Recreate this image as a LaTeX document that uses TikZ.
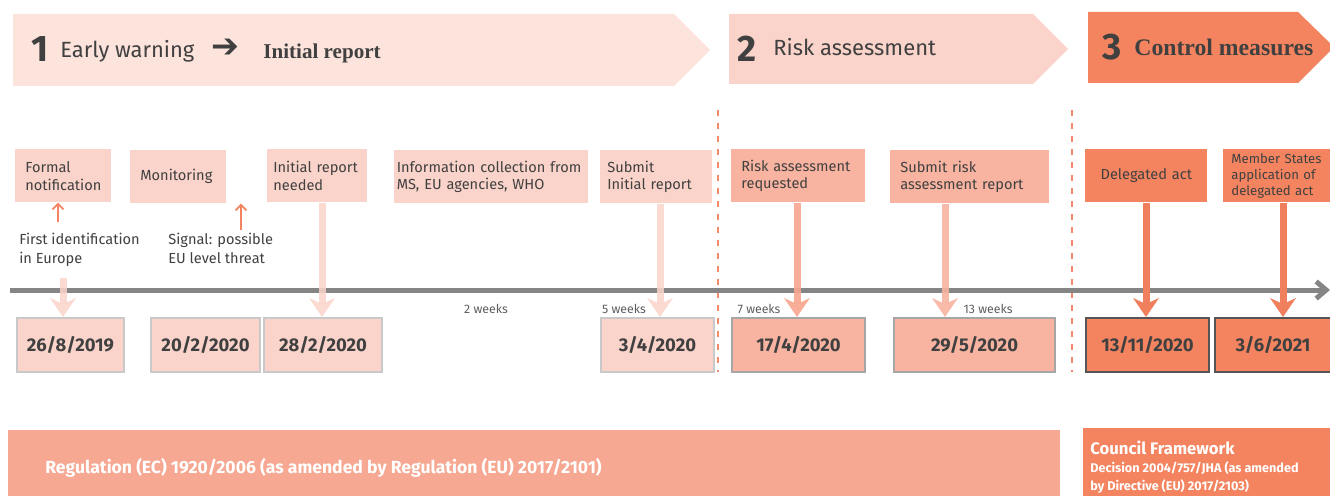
\documentclass[tikz,border=0pt]{standalone}
\usepackage{fontspec}
\setmainfont{Fira Sans}
\newfontfamily\slabfont{Liberation Serif}
\newfontfamily\symfont{DejaVu Sans}
\usepackage{tikz}
\usetikzlibrary{arrows.meta,positioning,calc}

\definecolor{txt}{HTML}{404040}
\definecolor{paleA}{HTML}{FCE3DC}
\definecolor{paleB}{HTML}{FAD4CA}
\definecolor{midC}{HTML}{F8B4A0}
\definecolor{midArrow}{HTML}{F7A58E}
\definecolor{strongD}{HTML}{F4845F}
\definecolor{strongArrow}{HTML}{F07F5E}
\definecolor{regbar}{HTML}{F6A892}
\definecolor{axisgray}{HTML}{858585}
\definecolor{edgeA}{HTML}{C9C9C9}
\definecolor{edgeB}{HTML}{A6A6A6}
\definecolor{edgeC}{HTML}{555555}
\definecolor{dashcol}{HTML}{F08A6A}

\begin{document}
\begin{tikzpicture}[x=0.2mm,y=-0.2mm,
    every node/.style={text=txt},
    lbl/.style={rectangle, anchor=north west, minimum height=10.6mm,
      inner xsep=2mm, inner ysep=0pt, align=left,
      font=\fontsize{8.3}{10.2}\selectfont},
    datebox/.style={rectangle, anchor=north west, minimum height=10.8mm,
      line width=0.4mm, font=\bfseries\fontsize{10.5}{12}\selectfont},
    dn/.style={line width=1.4mm,
      -{Stealth[length=3.8mm, width=5.2mm, inset=1.2mm, line width=0pt]}},
    up/.style={line width=0.35mm, strongD,
      -{Straight Barb[length=1.1mm, width=2.2mm]}},
    wk/.style={font=\fontsize{7}{8}\selectfont, text=txt!85},
    note/.style={anchor=north west, inner sep=0pt, align=left,
      font=\fontsize{8.3}{10.8}\selectfont},
    phase/.style={anchor=base west, inner sep=0pt},
  ]
  \useasboundingbox (0,0) rectangle (1330,496);

  % phase banners
  \fill[paleA] (13,14) -- (674,14) -- (710,50) -- (674,86) -- (13,86) -- cycle;
  \fill[paleB] (729,14) -- (1033,14) -- (1068,49) -- (1033,84) -- (729,84) -- cycle;
  \fill[strongD] (1088,12) -- (1298,12) -- (1334,47) -- (1298,83) -- (1088,83) -- cycle;

  \node[phase, font=\bfseries\fontsize{21}{21}\selectfont] (n1) at (31,62) {1};
  \node[phase, font=\fontsize{12.5}{14}\selectfont] (t1) at (60,58) {Early warning};
  \node[phase, font=\symfont\bfseries\fontsize{19}{19}\selectfont] (ar1) at (211,58) {➔};
  \node[phase, font=\slabfont\bfseries\fontsize{12}{14}\selectfont] (t1b) at (263,59) {Initial report};
  \node[phase, font=\bfseries\fontsize{21}{21}\selectfont] (n2) at (737,62) {2};
  \node[phase, font=\fontsize{12.5}{14}\selectfont] (t2) at (773,56) {Risk assessment};
  \node[phase, font=\bfseries\fontsize{21}{21}\selectfont] (n3) at (1102,60) {3};
  \node[phase, font=\slabfont\bfseries\fontsize{13.5}{14}\selectfont] (t3) at (1134,56) {Control measures};

  % phase borders
  \draw[dashcol, line width=0.4mm, dash pattern=on 1.2mm off 1.4mm] (718,110) -- (718,372);
  \draw[dashcol, line width=0.4mm, dash pattern=on 1.2mm off 1.4mm] (1072,110) -- (1072,372);

  % steps
  \node[lbl, fill=paleB, text width=15.2mm] (fn) at (15,149) {Formal\\notification};
  \node[lbl, fill=paleB, text width=15.2mm] (mon) at (130,150) {Monitoring};
  \node[lbl, fill=paleB, text width=17.6mm, inner xsep=1.2mm] (irn) at (267,149) {Initial report\\needed};
  \node[lbl, fill=paleB, text width=37.8mm, inner xsep=0.5mm] (info) at (394,150) {Information collection from\\MS, EU agencies, WHO};
  \node[lbl, fill=paleB, text width=19.6mm, inner xsep=1.4mm] (sub1) at (600,150) {Submit\\Initial report};
  \node[lbl, fill=midC, text width=22.8mm] (rar) at (731,149) {Risk assessment\\requested};
  \node[lbl, fill=midC, text width=27.8mm] (sra) at (890,150) {Submit risk\\assessment report};
  \node[lbl, fill=strongD, text width=20.4mm, align=center] (del) at (1085,149) {Delegated act};
  \node[lbl, fill=strongD, text width=18.2mm, inner xsep=1.6mm,
    font=\fontsize{7.5}{9}\selectfont] (msa) at (1223,149) {Member States\\application of\\delegated act};

  \node[note] (fil) at (19,233) {First identification\\in Europe};
  \node[note] (sig) at (168,233) {Signal: possible\\EU level threat};
  \coordinate (fia) at (58,222);
  \coordinate (sga) at (241,230);
  \draw[up] (fia) -- (fn.south -| fia);
  \draw[up] (sga) -- (mon.south -| sga);

  % time line
  \draw[axisgray, line width=1mm, -{Straight Barb[length=2mm, width=3.4mm]}] (10,290) -- (1330,290);

  % dates
  \node[datebox, fill=paleB, draw=edgeA, minimum width=21.4mm] (d1) at (16,317) {26/8/2019};
  \node[datebox, fill=paleB, draw=edgeA, minimum width=21.8mm] (d2) at (150,317) {20/2/2020};
  \node[datebox, fill=paleB, draw=edgeA, minimum width=23.6mm] (d3) at (263,317) {28/2/2020};
  \node[datebox, fill=paleB, draw=edgeA, minimum width=22.6mm] (d4) at (600,317) {3/4/2020};
  \node[datebox, fill=midC, draw=edgeB, minimum width=26.6mm] (d5) at (731,317) {17/4/2020};
  \node[datebox, fill=midC, draw=edgeB, minimum width=32.2mm] (d6) at (893,317) {29/5/2020};
  \node[datebox, fill=strongD, draw=edgeC, minimum width=24.6mm] (d7) at (1085,317) {13/11/2020};
  \node[datebox, fill=strongD, draw=edgeC, minimum width=23.2mm] (d8) at (1214,317) {3/6/2021};

  % durations
  \node[wk] (w2) at (486,309) {2 weeks};
  \node[wk] (w5) at (624,309) {5 weeks};
  \node[wk] (w7) at (759,309) {7 weeks};
  \node[wk] (w13) at (988,309) {13 weeks};

  % step to date
  \coordinate (a1) at (63,278);
  \draw[dn, paleB, opacity=.85] (a1) -- (a1 |- d1.north);
  \draw[dn, paleB, opacity=.85] (irn.south -| 322,0) -- (d3.north -| 322,0);
  \draw[dn, paleB, opacity=.85] (sub1.south -| 660,0) -- (d4.north -| 660,0);
  \draw[dn, midArrow, opacity=.9] (rar.south -| 797,0) -- (d5.north -| 797,0);
  \draw[dn, midC, opacity=.9] (sra.south -| 945,0) -- (d6.north -| 945,0);
  \draw[dn, strongArrow] (del.south -| 1146,0) -- (d7.north -| 1146,0);
  \draw[dn, strongArrow] (msa.south -| 1283,0) -- (d8.north -| 1283,0);

  % legal basis
  \fill[regbar] (8,430) rectangle (1060,496);
  \fill[strongD] (1083,428) rectangle (1330,496);
  \node[anchor=base west, inner sep=0pt, text=white, font=\bfseries\fontsize{10}{11}\selectfont] (reg) at (45,473)
    {Regulation (EC) 1920/2006 (as amended by Regulation (EU) 2017/2101)};
  \node[anchor=base west, inner sep=0pt, text=white, font=\bfseries\fontsize{9.5}{10}\selectfont] (cf) at (1090,454) {Council Framework};
  \node[anchor=base west, inner sep=0pt, text=white, font=\bfseries\fontsize{7.2}{8}\selectfont] (cf2) at (1090,472) {Decision 2004/757/JHA (as amended};
  \node[anchor=base west, inner sep=0pt, text=white, font=\bfseries\fontsize{7.2}{8}\selectfont] (cf3) at (1090,490) {by Directive (EU) 2017/2103)};
\end{tikzpicture}
\end{document}
